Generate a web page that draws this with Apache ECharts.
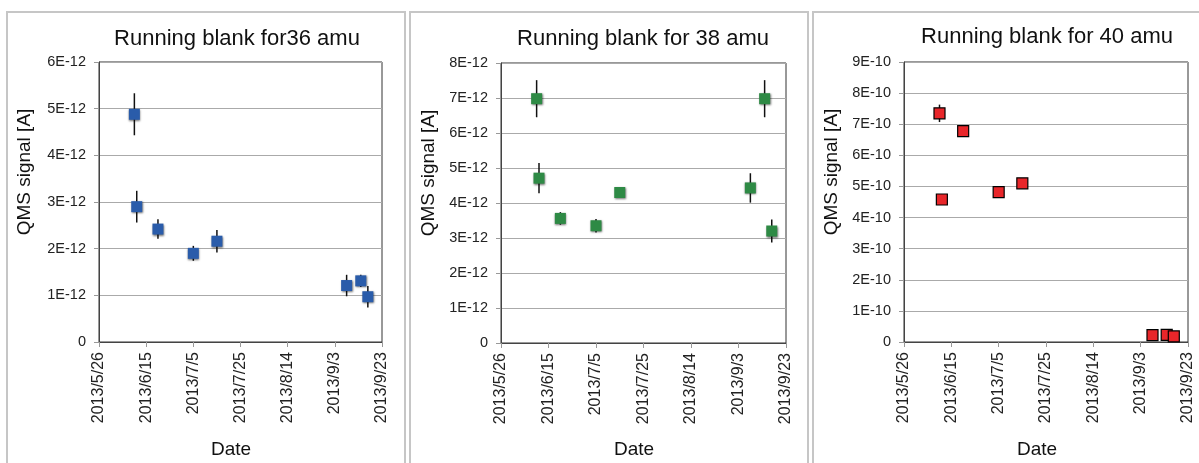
<!DOCTYPE html>
<html>
<head>
<meta charset="utf-8">
<script src="https://cdn.jsdelivr.net/npm/echarts@6/dist/echarts.min.js"></script>
<style>
html,body{margin:0;padding:0;background:#fff;}
#chart{width:1199px;height:463px;}
</style>
</head>
<body>
<div id="chart"></div>
<script>
// ---- data ----
const dates = ['2013/6/10','2013/6/11','2013/6/20','2013/7/5','2013/7/15','2013/9/8','2013/9/14','2013/9/17'];
const signal36 = [4.88e-12, 2.90e-12, 2.42e-12, 1.90e-12, 2.16e-12, 1.21e-12, 1.31e-12, 0.97e-12];
const error36  = [0.45e-12, 0.34e-12, 0.21e-12, 0.16e-12, 0.24e-12, 0.23e-12, 0.13e-12, 0.23e-12];
const signal38 = [6.98e-12, 4.71e-12, 3.56e-12, 3.35e-12, 4.30e-12, 4.43e-12, 6.98e-12, 3.20e-12];
const error38  = [0.53e-12, 0.43e-12, 0.18e-12, 0.19e-12, 0, 0.42e-12, 0.53e-12, 0.33e-12];
const signal40 = [7.35e-10, 4.58e-10, 6.78e-10, 4.82e-10, 5.10e-10, 0.22e-10, 0.23e-10, 0.18e-10];
const error40  = [0.28e-10, 0.05e-10, 0.03e-10, 0.03e-10, 0.03e-10, 0.02e-10, 0.02e-10, 0.02e-10];
const titles = ['Running blank for36 amu', 'Running blank for 38 amu', 'Running blank for 40 amu'];
const yMax = [6e-12, 8e-12, 9e-10];
const yStep = [1e-12, 1e-12, 1e-10];
const yExp = ['E-12', 'E-12', 'E-10'];
const xStart = '2013/5/26';   // first x tick
const xSpanDays = 120;        // last x tick: 2013/9/23
const xTickDays = 20;

// ---- helpers ----
const DAY = 86400000;
function toUTC(s){ const p = s.split('/').map(Number); return Date.UTC(p[0], p[1]-1, p[2]); }
const t0 = toUTC(xStart);
function dayOffset(s){ return Math.round((toUTC(s) - t0) / DAY); }
function dayLabel(d){ const dt = new Date(t0 + d*DAY); return dt.getUTCFullYear()+'/'+(dt.getUTCMonth()+1)+'/'+dt.getUTCDate(); }

const FONT = "'Liberation Sans', Arial, Helvetica, sans-serif";
const grids = [
  {left: 99, top: 62, width: 283, height: 280},
  {left: 501, top: 63, width: 285, height: 280},
  {left: 904, top: 62, width: 284, height: 280}
];
const colors = ['#2a5caa', '#2e8a45', '#e8262a'];
const signals = [signal36, signal38, signal40];
const errors = [error36, error38, error40];

const xAxes = [], yAxes = [], series = [];
for (let i = 0; i < 3; i++) {
  xAxes.push({
    type: 'value', gridIndex: i, min: 0, max: xSpanDays, interval: xTickDays,
    axisLine: {show: true, lineStyle: {color: '#444', width: 1}},
    axisTick: {show: true, length: 5, lineStyle: {color: '#999'}},
    splitLine: {show: false},
    axisLabel: {rotate: 90, margin: 10, fontSize: 16, color: '#222', fontFamily: FONT, formatter: v => dayLabel(v)}
  });
  const step = yStep[i], ex = yExp[i];
  yAxes.push({
    type: 'value', gridIndex: i, min: 0, max: yMax[i], interval: step,
    axisLine: {show: true, lineStyle: {color: '#444', width: 1}},
    axisTick: {show: true, length: 5, lineStyle: {color: '#999'}},
    splitLine: {show: true, lineStyle: {color: '#aaa', width: 1}},
    axisLabel: {margin: 13, fontSize: 14.5, color: '#222', fontFamily: FONT,
      formatter: v => { const n = Math.round(v / step); return n === 0 ? '0' : n + ex; }}
  });
  const sig = signals[i], err = errors[i];
  series.push({
    type: 'custom', xAxisIndex: i, yAxisIndex: i, z: 2,
    data: dates.map((d, k) => [dayOffset(d), sig[k] - err[k], sig[k] + err[k]]),
    renderItem: (params, api) => {
      const p1 = api.coord([api.value(0), api.value(1)]);
      const p2 = api.coord([api.value(0), api.value(2)]);
      return {type: 'line', shape: {x1: p1[0], y1: p1[1], x2: p2[0], y2: p2[1]},
        style: {stroke: '#111', lineWidth: 1.5}};
    },
    silent: true
  });
  series.push({
    type: 'scatter', xAxisIndex: i, yAxisIndex: i, z: 3,
    symbol: 'rect', symbolSize: 11,
    data: dates.map((d, k) => [dayOffset(d), sig[k]]),
    itemStyle: i === 2
      ? {color: colors[i], borderColor: '#000', borderWidth: 1.2, opacity: 1}
      : {color: colors[i], opacity: 1, shadowColor: 'rgba(0,0,0,0.55)', shadowBlur: 2, shadowOffsetX: 0.5, shadowOffsetY: 1}
  });
}

const panelX = [[7, 405], [410, 808], [813, 1210]];
const titlePos = [[237, 38.5], [643, 39], [1047, 37]];
const yNamePos = [[25, 172], [429, 173], [832, 172]];
const datePos = [[231, 450], [634, 450], [1037, 450]];
const graphic = [];
for (let i = 0; i < 3; i++) {
  graphic.push({type: 'rect', z: -10, shape: {x: panelX[i][0], y: 12, width: panelX[i][1] - panelX[i][0], height: 470},
    style: {fill: 'none', stroke: '#c6c6c6', lineWidth: 2}});
  graphic.push({type: 'text', x: titlePos[i][0], y: titlePos[i][1],
    style: {text: titles[i], font: '22px ' + FONT, fill: '#111', textAlign: 'center', textVerticalAlign: 'middle'}});
  graphic.push({type: 'text', x: yNamePos[i][0], y: yNamePos[i][1], rotation: Math.PI / 2,
    style: {text: 'QMS signal [A]', font: '19px ' + FONT, fill: '#111', textAlign: 'center', textVerticalAlign: 'middle'}});
  graphic.push({type: 'text', x: datePos[i][0], y: datePos[i][1],
    style: {text: 'Date', font: '19px ' + FONT, fill: '#111', textAlign: 'center', textVerticalAlign: 'middle'}});
}

const chart = echarts.init(document.getElementById('chart'), null, {renderer: 'canvas'});
chart.setOption({
  animation: false,
  backgroundColor: '#fff',
  grid: grids.map(g => Object.assign({show: true, borderColor: '#333', borderWidth: 1, backgroundColor: 'transparent'}, g)),
  xAxis: xAxes,
  yAxis: yAxes,
  series: series,
  graphic: graphic
});
</script>
</body>
</html>
